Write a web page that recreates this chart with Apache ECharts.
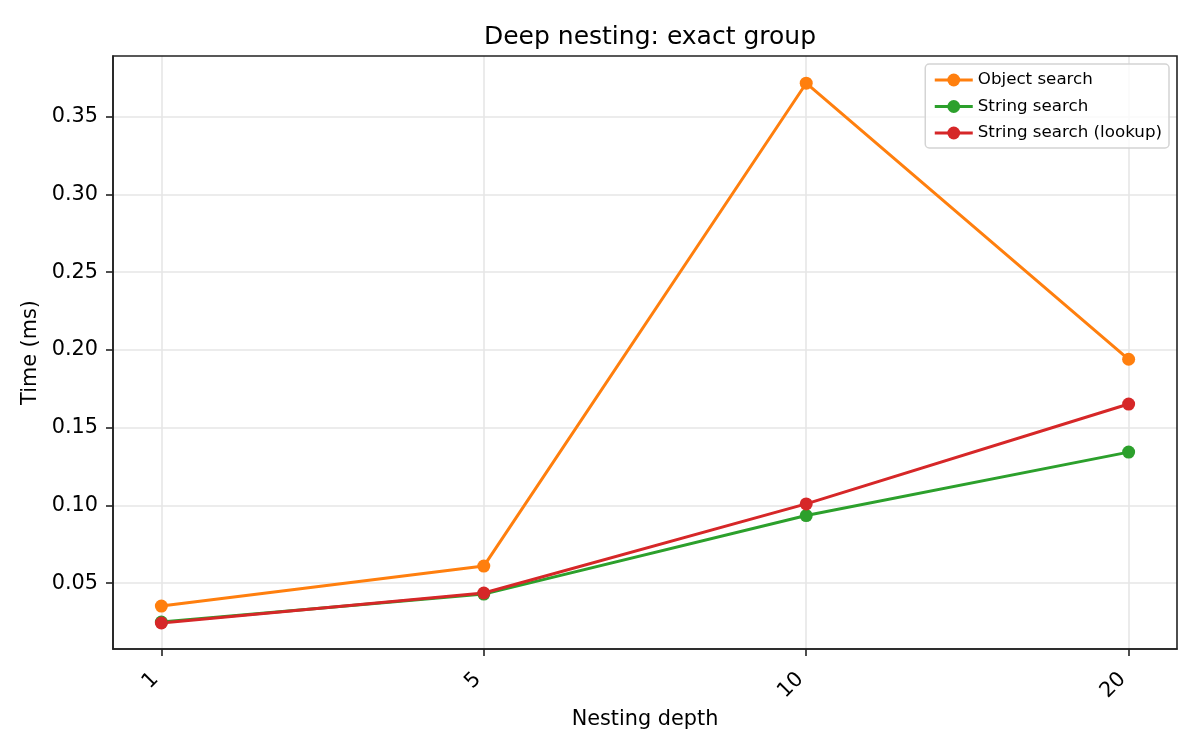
<!DOCTYPE html>
<html>
<head>
<meta charset="utf-8">
<script src="https://cdn.jsdelivr.net/npm/echarts@6/dist/echarts.min.js"></script>
<style>html,body{margin:0;padding:0;background:#fff}#c{width:1200px;height:750px}</style>
</head>
<body>
<div id="c"></div>
<script>
const categories = ['1', '5', '10', '20'];
const objectSearch = [0.0353, 0.061, 0.3715, 0.194];
const stringSearch = [0.025, 0.043, 0.0935, 0.1343];
const stringLookup = [0.0244, 0.0437, 0.101, 0.1652];
const yTicks = [0.05, 0.10, 0.15, 0.20, 0.25, 0.30, 0.35];

const font = 'DejaVu Sans';
const chart = echarts.init(document.getElementById('c'));
function mk(name, data, color) {
  return {
    name, type: 'line',
    data: data.map((v, i) => [i, v]),
    symbol: 'circle', symbolSize: 13,
    lineStyle: { color, width: 3 },
    itemStyle: { color },
    z: 3
  };
}
const axisCol = '#222';
chart.setOption({
  animation: false,
  textStyle: { fontFamily: font },
  title: {
    text: 'Deep nesting: exact group', left: 645, top: 20, textAlign: 'center',
    textStyle: { fontFamily: font, fontSize: 25, fontWeight: 'normal', color: '#000' }
  },
  legend: {
    orient: 'vertical', right: 31, top: 64,
    padding: [7, 7, 6, 8], itemGap: 8.5,
    itemWidth: 38, itemHeight: 16,
    lineStyle: { width: 3 },
    borderColor: '#d4d4d4', borderWidth: 1.5, borderRadius: 4,
    backgroundColor: 'rgba(255,255,255,0.8)',
    textStyle: { fontFamily: font, fontSize: 16.7, lineHeight: 18, color: '#000' },
    data: ['Object search', 'String search', 'String search (lookup)']
  },
  grid: { left: 113, right: 23, top: 56, bottom: 101, containLabel: false },
  xAxis: {
    type: 'value', min: -0.15, max: 3.15,
    name: 'Nesting depth', nameLocation: 'middle', nameGap: 52,
    nameTextStyle: { fontFamily: font, fontSize: 20.8, color: '#000' },
    axisLine: { show: true, onZero: false, lineStyle: { color: axisCol, width: 1.6 } },
    axisTick: { show: true, length: 7, lineStyle: { color: axisCol, width: 1.6 }, customValues: [0, 1, 2, 3] },
    axisLabel: {
      customValues: [0, 1, 2, 3], rotate: 45, margin: 21, padding: [0, 8.5, 0, 0],
      formatter: v => categories[Math.round(v)],
      fontFamily: font, fontSize: 20.8, color: '#000'
    },
    splitLine: { show: true, lineStyle: { color: '#e6e6e6', width: 1.6 } }
  },
  yAxis: {
    type: 'value', min: 0.0077, max: 0.389,
    name: 'Time (ms)', nameLocation: 'middle', nameGap: 72,
    nameTextStyle: { fontFamily: font, fontSize: 20.8, color: '#000' },
    axisLine: { show: true, onZero: false, lineStyle: { color: axisCol, width: 1.6 } },
    axisTick: { show: true, length: 7, lineStyle: { color: axisCol, width: 1.6 }, customValues: yTicks },
    axisLabel: {
      customValues: yTicks, margin: 15,
      formatter: v => v.toFixed(2),
      fontFamily: font, fontSize: 20.8, color: '#000'
    },
    splitLine: { show: true, lineStyle: { color: '#e6e6e6', width: 1.6 } }
  },
  series: [
    mk('Object search', objectSearch, '#ff7f0e'),
    mk('String search', stringSearch, '#2ca02c'),
    mk('String search (lookup)', stringLookup, '#d62728')
  ],
  graphic: [{
    type: 'rect', shape: { x: 113, y: 56, width: 1064, height: 593 },
    style: { fill: 'none', stroke: axisCol, lineWidth: 1.6 }, silent: true, z: 10
  }]
});
</script>
</body>
</html>
